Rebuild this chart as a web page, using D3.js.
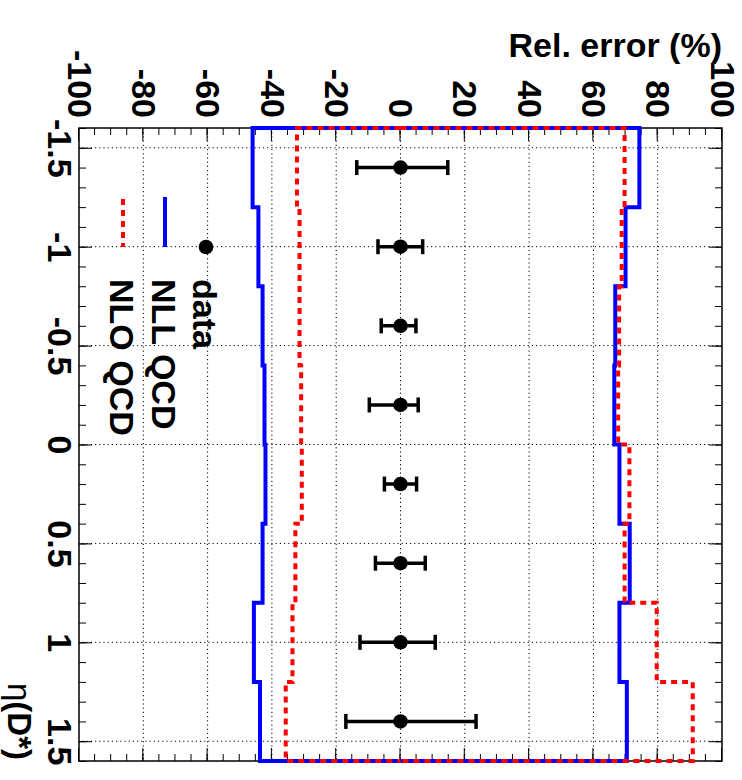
<!DOCTYPE html>
<html>
<head>
<meta charset="utf-8">
<script src="https://cdn.jsdelivr.net/npm/d3@7"></script>
<style>
    body { margin: 0; background: #fff; }
    svg { display: block; }
</style>
</head>
<body>
<div id="chart"></div>
<script>
// bin edges in eta(D*) and relative errors (%)
const binEdges = [-1.6, -1.2, -0.8, -0.4, 0, 0.4, 0.8, 1.2, 1.6];
const etaCenters = [-1.4, -1.0, -0.6, -0.2, 0.2, 0.6, 1.0, 1.4];

const dataErrLow = [13.6, 7.0, 6.0, 9.7, 5.0, 7.8, 12.6, 17.0];
const dataErrHigh = [14.7, 6.9, 4.8, 5.5, 5.0, 7.7, 10.8, 23.5];

const nllUp = [74.3, 70.0, 66.8, 66.5, 68.1, 71.3, 68.1, 70.4];
const nllLow = [-46.0, -44.2, -42.9, -42.3, -42.0, -42.9, -45.6, -43.7];
const nloUp = [69.7, 68.8, 68.0, 67.7, 71.2, 69.7, 79.7, 90.9];
const nloLow = [-32.2, -31.4, -31.4, -30.9, -30.7, -32.7, -33.6, -35.7];

const etaMajor = [-1.5, -1, -0.5, 0, 0.5, 1, 1.5];
const etaMinor = d3.range(-16, 17).map(d => d / 10);
const relMajor = [-100, -80, -60, -40, -20, 0, 20, 40, 60, 80, 100];
const relMinor = d3.range(-100, 101, 5);
const relGrid = [-80, -60, -40, -20, 0, 20, 40, 60, 80];

const legendItems = ["data", "NLL QCD", "NLO QCD"];

const width = 742;
const height = 780;
const font = "'Liberation Sans', Arial, Helvetica, sans-serif";

const svg = d3.select("#chart")
    .append("svg")
    .attr("width", width)
    .attr("height", height);

// the whole plot is drawn upright and then turned by 90 degrees
const g = svg.append("g")
    .attr("transform", `translate(${width},0) rotate(90)`);

const x = d3.scaleLinear().domain([-1.6, 1.6]).range([128, 761]);
const y = d3.scaleLinear().domain([-100, 100]).range([663, 20]);

// grid
g.append("g")
    .selectAll("line")
    .data(etaMajor)
    .join("line")
    .attr("x1", d => x(d)).attr("x2", d => x(d))
    .attr("y1", y(100)).attr("y2", y(-100))
    .attr("stroke", "#000")
    .attr("stroke-width", 1)
    .attr("stroke-dasharray", "1.2,3");

g.append("g")
    .selectAll("line")
    .data(relGrid)
    .join("line")
    .attr("x1", x(-1.6)).attr("x2", x(1.6))
    .attr("y1", d => y(d)).attr("y2", d => y(d))
    .attr("stroke", "#000")
    .attr("stroke-width", 1)
    .attr("stroke-dasharray", "1.2,3");

// axes, ticks pointing inwards
function styleAxis(sel) {
    sel.select(".domain").remove();
    sel.selectAll(".tick line").attr("stroke", "#000").attr("stroke-width", 1);
    sel.selectAll("text")
        .attr("fill", "#000")
        .style("font-family", font)
        .style("font-size", "34px")
        .style("font-weight", "bold");
}

const atBottom = `translate(0,${y(-100)})`;
const atTop = `translate(0,${y(100)})`;
const atLeft = `translate(${x(-1.6)},0)`;
const atRight = `translate(${x(1.6)},0)`;

g.append("g").attr("transform", atBottom)
    .call(d3.axisBottom(x).tickValues(etaMinor).tickSize(-7).tickFormat(""))
    .call(styleAxis);
g.append("g").attr("transform", atBottom)
    .call(d3.axisBottom(x).tickValues(etaMajor).tickSizeInner(-13).tickSizeOuter(0)
        .tickPadding(7).tickFormat(d => String(d)))
    .call(styleAxis);
g.append("g").attr("transform", atTop)
    .call(d3.axisTop(x).tickValues(etaMinor).tickSize(-7).tickFormat(""))
    .call(styleAxis);
g.append("g").attr("transform", atTop)
    .call(d3.axisTop(x).tickValues(etaMajor).tickSize(-13).tickFormat(""))
    .call(styleAxis);

g.append("g").attr("transform", atLeft)
    .call(d3.axisLeft(y).tickValues(relMinor).tickSize(-7).tickFormat(""))
    .call(styleAxis);
g.append("g").attr("transform", atLeft)
    .call(d3.axisLeft(y).tickValues(relMajor).tickSizeInner(-13).tickSizeOuter(0)
        .tickPadding(10).tickFormat(d => String(d)))
    .call(styleAxis);
g.append("g").attr("transform", atRight)
    .call(d3.axisRight(y).tickValues(relMinor).tickSize(-7).tickFormat(""))
    .call(styleAxis);
g.append("g").attr("transform", atRight)
    .call(d3.axisRight(y).tickValues(relMajor).tickSize(-13).tickFormat(""))
    .call(styleAxis);

// frame
g.append("rect")
    .attr("x", x(-1.6)).attr("y", y(100))
    .attr("width", x(1.6) - x(-1.6))
    .attr("height", y(-100) - y(100))
    .attr("fill", "none")
    .attr("stroke", "#000")
    .attr("stroke-width", 1.5);

// step histograms, drawn from zero like ROOT does
function stepPoints(vals) {
    const pts = [[binEdges[0], 0]];
    vals.forEach((v, i) => {
        pts.push([binEdges[i], v]);
        pts.push([binEdges[i + 1], v]);
    });
    pts.push([binEdges[binEdges.length - 1], 0]);
    return pts;
}

const line = d3.line().x(d => x(d[0])).y(d => y(d[1]));

[nllUp, nllLow].forEach(vals => {
    g.append("path")
        .attr("d", line(stepPoints(vals)))
        .attr("fill", "none")
        .attr("stroke", "#0000ff")
        .attr("stroke-width", 4);
});

[nloUp, nloLow].forEach(vals => {
    g.append("path")
        .attr("d", line(stepPoints(vals)))
        .attr("fill", "none")
        .attr("stroke", "#ff0000")
        .attr("stroke-width", 4)
        .attr("stroke-dasharray", "6,5");
});

// data points with error bars
const pts = etaCenters.map((e, i) => ({ eta: e, lo: dataErrLow[i], hi: dataErrHigh[i] }));

const dataG = g.append("g");
dataG.selectAll(".bar")
    .data(pts)
    .join("line")
    .attr("class", "bar")
    .attr("x1", d => x(d.eta)).attr("x2", d => x(d.eta))
    .attr("y1", d => y(-d.lo)).attr("y2", d => y(d.hi))
    .attr("stroke", "#000")
    .attr("stroke-width", 3.5);

dataG.selectAll(".capLo")
    .data(pts)
    .join("line")
    .attr("class", "capLo")
    .attr("x1", d => x(d.eta) - 7.5).attr("x2", d => x(d.eta) + 7.5)
    .attr("y1", d => y(-d.lo)).attr("y2", d => y(-d.lo))
    .attr("stroke", "#000")
    .attr("stroke-width", 3.5);

dataG.selectAll(".capHi")
    .data(pts)
    .join("line")
    .attr("class", "capHi")
    .attr("x1", d => x(d.eta) - 7.5).attr("x2", d => x(d.eta) + 7.5)
    .attr("y1", d => y(d.hi)).attr("y2", d => y(d.hi))
    .attr("stroke", "#000")
    .attr("stroke-width", 3.5);

dataG.selectAll("circle")
    .data(pts)
    .join("circle")
    .attr("cx", d => x(d.eta))
    .attr("cy", y(0))
    .attr("r", 7.3)
    .attr("fill", "#000");

// legend
const legRows = [536, 577, 619];
const leg = g.append("g");
leg.append("circle")
    .attr("cx", 247).attr("cy", legRows[0]).attr("r", 7.3).attr("fill", "#000");
leg.append("line")
    .attr("x1", 197).attr("x2", 247)
    .attr("y1", legRows[1]).attr("y2", legRows[1])
    .attr("stroke", "#0000ff").attr("stroke-width", 4);
leg.append("line")
    .attr("x1", 199).attr("x2", 247)
    .attr("y1", legRows[2]).attr("y2", legRows[2])
    .attr("stroke", "#ff0000").attr("stroke-width", 4)
    .attr("stroke-dasharray", "6,5");

leg.selectAll("text")
    .data(legendItems)
    .join("text")
    .attr("x", 279)
    .attr("y", (d, i) => legRows[i] + 13)
    .style("font-family", font)
    .style("font-size", "34px")
    .style("font-weight", "bold")
    .text(d => d);

// axis titles
const etaTitle = g.append("text")
    .attr("x", 760)
    .attr("y", 734)
    .attr("text-anchor", "end")
    .style("font-family", font)
    .style("font-size", "33px")
    .style("font-weight", "bold");
etaTitle.append("tspan").style("font-weight", "normal").text("η");
etaTitle.append("tspan").text("(D*)");

svg.append("text")
    .attr("x", 722)
    .attr("y", 57)
    .attr("text-anchor", "end")
    .style("font-family", font)
    .style("font-size", "34px")
    .style("font-weight", "bold")
    .text("Rel. error (%)");
</script>
</body>
</html>
